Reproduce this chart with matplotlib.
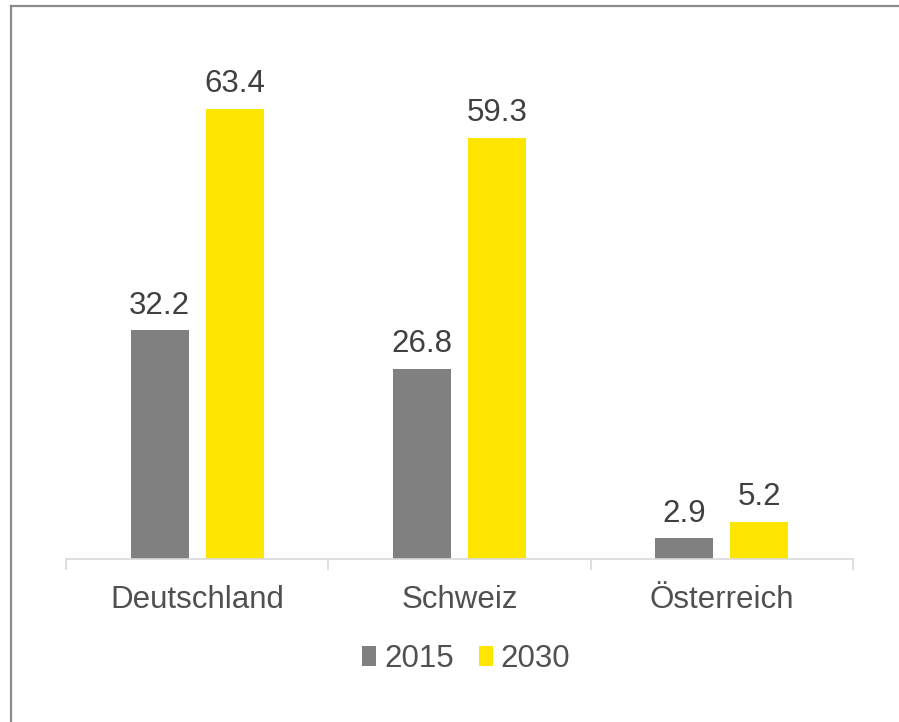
import matplotlib.pyplot as plt
from matplotlib.lines import Line2D
import numpy as np

plt.rcParams["font.family"] = ["Liberation Sans", "DejaVu Sans"]

countries = ["Deutschland", "Schweiz", "Österreich"]
years = ["2015", "2030"]
values_2015 = [32.2, 26.8, 2.9]
values_2030 = [63.4, 59.3, 5.2]

text_col = "#404040"
label_col = "#505050"
W, H = 899, 722

fig = plt.figure(figsize=(W / 100, H / 100), dpi=100)
ax = fig.add_axes([66 / W, (H - 559) / H, (853 - 66) / W, (559 - 62) / H])

x = np.arange(len(countries))
off, bw = 0.143, 0.22
b1 = ax.bar(x - off, values_2015, bw, color="#808080", label=years[0])
b2 = ax.bar(x + off, values_2030, bw, color="#FFE600", label=years[1])

for bars in (b1, b2):
    for rect in bars:
        ax.annotate(f"{rect.get_height():.1f}",
                    (rect.get_x() + rect.get_width() / 2, rect.get_height()),
                    xytext=(0, 7), textcoords="offset points",
                    ha="center", va="bottom", fontsize=22.5, color=text_col)

ax.set_xlim(-0.5, 2.5)
ax.set_ylim(0, 70)
ax.set_yticks([])
for s in ["top", "right", "left"]:
    ax.spines[s].set_visible(False)
ax.spines["bottom"].set_color("#d9d9d9")
ax.spines["bottom"].set_linewidth(1.2)

ax.set_xticks(x)
ax.set_xticklabels(countries, fontsize=22.5, color=label_col)
ax.set_xticks([-0.5, 0.5, 1.5, 2.5], minor=True)
ax.tick_params(axis="x", which="major", length=0, pad=19)
ax.tick_params(axis="x", which="minor", length=8, width=1.2, color="#d9d9d9")

fig.legend(loc="center", bbox_to_anchor=(466 / W, (H - 659) / H), ncol=2,
           frameon=False, fontsize=22.5, labelcolor=label_col,
           handlelength=0.45, handleheight=0.62, handletextpad=0.25,
           columnspacing=0.8)

# frame lines on the left and top of the picture
fig.add_artist(Line2D([11 / W, 11 / W], [0, (H - 6) / H], color="#8c8c8c", lw=1.6))
fig.add_artist(Line2D([11 / W, 1], [(H - 6) / H, (H - 6) / H], color="#8c8c8c", lw=1.6))

fig.savefig("out.png", dpi=100)
